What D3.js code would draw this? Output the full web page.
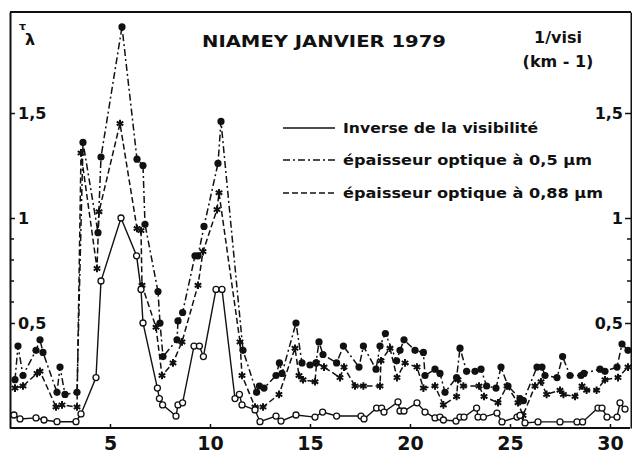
<!DOCTYPE html>
<html><head><meta charset="utf-8">
<script src="https://cdn.jsdelivr.net/npm/d3@7"></script>
<style>
body{margin:0;background:#fff;}
svg{display:block;}
text{font-family:"DejaVu Sans",sans-serif;font-weight:bold;fill:#111;}
</style></head>
<body><svg id="c" width="632" height="453"></svg>
<script>
// ---- data (day of January 1979, value) ----
const visDays = [0.2,0.5,1.3,1.7,2.35,3.3,3.55,4.3,4.55,5.55,6.33,6.55,6.65,7.37,7.47,7.63,8.3,8.4,8.63,9.2,9.47,9.67,10.3,10.6,11.25,11.47,11.6,12.25,12.5,13.3,13.55,14.3,15.25,15.63,16.33,17.55,17.7,18.33,18.58,18.7,19.4,19.5,19.7,20.35,20.75,21.25,21.5,21.67,22.3,22.5,22.7,23.33,23.4,23.67,24.35,24.6,25.35,25.5,25.75,26.4,27.5,28.35,28.63,29.4,29.6,29.85,30.35,30.5,30.75];
const visValues = [0.062,0.043,0.048,0.038,0.03,0.03,0.067,0.24,0.70,1.0,0.82,0.66,0.50,0.19,0.14,0.11,0.057,0.11,0.12,0.39,0.39,0.34,0.66,0.66,0.14,0.16,0.11,0.086,0.03,0.057,0.033,0.062,0.052,0.076,0.057,0.057,0.043,0.095,0.095,0.076,0.124,0.081,0.081,0.12,0.076,0.048,0.052,0.038,0.033,0.052,0.052,0.095,0.052,0.052,0.071,0.029,0.052,0.06,0.024,0.029,0.029,0.029,0.029,0.095,0.095,0.052,0.052,0.12,0.09];

const tau05Days = [0.25,0.4,0.65,1.3,1.5,1.65,2.35,2.5,2.75,3.35,3.65,4.4,4.55,5.6,6.35,6.65,6.75,7.4,7.5,7.65,8.35,8.4,8.63,9.25,9.4,9.7,10.4,10.55,11.65,12.33,12.47,12.7,13.3,13.47,13.6,14.3,14.6,15.0,15.3,15.45,15.65,16.33,16.67,17.45,17.67,18.3,18.5,18.77,19.33,19.5,19.7,20.25,20.67,20.75,21.25,21.5,21.75,22.33,22.5,22.83,23.25,23.55,23.83,24.3,24.55,24.9,25.5,25.67,26.35,26.6,26.75,27.35,27.63,28.0,28.55,28.7,29.5,29.75,30.35,30.6,30.9];
const tau05Values = [0.23,0.39,0.25,0.37,0.42,0.36,0.17,0.29,0.16,0.17,1.36,0.93,1.29,1.91,1.28,1.25,0.97,0.65,0.50,0.34,0.42,0.51,0.55,0.82,0.82,0.96,1.26,1.46,0.37,0.17,0.20,0.19,0.25,0.31,0.26,0.50,0.31,0.30,0.31,0.41,0.35,0.31,0.39,0.29,0.39,0.28,0.39,0.45,0.32,0.37,0.42,0.37,0.36,0.25,0.28,0.26,0.17,0.24,0.38,0.27,0.27,0.28,0.20,0.19,0.29,0.20,0.14,0.13,0.29,0.29,0.25,0.24,0.34,0.25,0.25,0.26,0.28,0.27,0.29,0.40,0.37];

const tau088Days = [0.25,0.65,1.35,1.5,2.3,2.6,3.35,3.55,4.35,4.45,5.5,6.35,6.55,6.6,7.3,7.6,8.15,8.6,9.4,9.65,10.35,10.45,11.5,11.6,12.25,12.65,13.45,14.25,14.45,14.65,15.25,15.33,15.7,16.5,16.7,17.25,17.67,18.5,18.55,19.0,19.35,19.75,20.35,20.67,21.25,21.67,22.33,22.4,22.67,23.45,23.7,24.4,24.85,25.4,25.65,26.25,26.55,26.83,27.5,27.67,28.25,28.6,28.83,29.33,29.75,30.4,30.9];
const tau088Values = [0.19,0.20,0.26,0.27,0.10,0.11,0.10,1.31,0.76,1.03,1.45,0.95,0.94,0.68,0.48,0.25,0.31,0.41,0.68,0.84,1.04,1.12,0.41,0.25,0.10,0.10,0.16,0.38,0.25,0.23,0.22,0.31,0.29,0.24,0.29,0.20,0.20,0.20,0.32,0.38,0.24,0.31,0.29,0.19,0.20,0.11,0.15,0.23,0.20,0.20,0.15,0.12,0.20,0.12,0.06,0.20,0.22,0.16,0.18,0.16,0.15,0.20,0.18,0.18,0.23,0.24,0.29];

const xTicks = [5,10,15,20,25,30];
const yMajorTicks = [0.5,1,1.5];
const yMinorTicks = [0.6,0.7,0.8,0.9];
const titleText = "NIAMEY  JANVIER 1979";
const legendLabels = ["Inverse de la visibilité","épaisseur optique à 0,5 µm","épaisseur optique à 0,88 µm"];

// ---- drawing ----
const svg = d3.select("#c");
const x = d3.scaleLinear().domain([0,31]).range([10,630]);
const y = d3.scaleLinear().domain([0,1.981]).range([428,12]);
const fmt = d => String(d).replace(".", ",");

// frame top line
svg.append("line").attr("x1",10).attr("x2",631).attr("y1",y(1.981)).attr("y2",y(1.981))
  .attr("stroke","#111").attr("stroke-width",2);

// left axis (ticks inside)
const gL = svg.append("g").attr("transform","translate(10,0)")
  .call(d3.axisRight(y).tickValues(yMajorTicks).tickFormat(fmt).tickSize(5).tickSizeOuter(0).tickPadding(3));
gL.append("g").selectAll("line").data(yMinorTicks).join("line")
  .attr("x1",0).attr("x2",4).attr("y1",d=>y(d)).attr("y2",d=>y(d)).attr("stroke","#111").attr("stroke-width",1.5);
// right axis
const gR = svg.append("g").attr("transform","translate(631,0)")
  .call(d3.axisLeft(y).tickValues(yMajorTicks).tickFormat(fmt).tickSize(6).tickSizeOuter(0).tickPadding(2));
gR.append("g").selectAll("line").data(yMinorTicks).join("line")
  .attr("x1",0).attr("x2",-4).attr("y1",d=>y(d)).attr("y2",d=>y(d)).attr("stroke","#111").attr("stroke-width",1.5);
// bottom axis
const gB = svg.append("g").attr("transform","translate(0,428)")
  .call(d3.axisBottom(x).tickValues(xTicks).tickSize(-4).tickSizeOuter(0).tickPadding(9));
[gL,gR,gB].forEach(g=>{
  g.select(".domain").attr("stroke","#111").attr("stroke-width",2);
  g.selectAll(".tick line").attr("stroke","#111").attr("stroke-width",1.5);
  g.selectAll("text").attr("font-family","DejaVu Sans").attr("font-weight","bold").attr("fill","#111");
});
gL.selectAll("text").attr("font-size",16);
gR.selectAll("text").attr("font-size",16);
gB.selectAll("text").attr("font-size",19);
gB.select(".domain").attr("d","M10,0H630");

// titles
svg.append("text").attr("x",202).attr("y",47).attr("font-size",15)
  .attr("textLength",244).attr("lengthAdjust","spacingAndGlyphs").text(titleText);
svg.append("text").attr("x",558).attr("y",43).attr("text-anchor","middle").attr("font-size",16).text("1/visi");
svg.append("text").attr("x",558).attr("y",67).attr("text-anchor","middle").attr("font-size",16).text("(km - 1)");
svg.append("text").attr("x",19).attr("y",30).attr("font-size",11).text("τ");
svg.append("text").attr("x",25).attr("y",45).attr("font-size",16).attr("font-weight","normal").text("λ");

// series
const mk = (ds,vs)=>ds.map((d,i)=>({d, v:vs[i]}));
const vis = mk(visDays,visValues), t05 = mk(tau05Days,tau05Values), t088 = mk(tau088Days,tau088Values);
const line = d3.line().x(p=>x(p.d)).y(p=>y(p.v));

svg.append("path").datum(t088).attr("d",line).attr("fill","none").attr("stroke","#111")
  .attr("stroke-width",1.5).attr("stroke-dasharray","6,3");
svg.append("path").datum(t05).attr("d",line).attr("fill","none").attr("stroke","#111")
  .attr("stroke-width",1.5).attr("stroke-dasharray","7,3,2,3");
svg.append("path").datum(vis).attr("d",line).attr("fill","none").attr("stroke","#111")
  .attr("stroke-width",1.4);

const star = d3.symbol().type(d3.symbolAsterisk).size(40);
svg.append("g").selectAll("path").data(t088).join("path")
  .attr("transform",p=>`translate(${x(p.d)},${y(p.v)})`).attr("d",star)
  .attr("stroke","#111").attr("stroke-width",2).attr("fill","none");
svg.append("g").selectAll("circle").data(t05).join("circle")
  .attr("cx",p=>x(p.d)).attr("cy",p=>y(p.v)).attr("r",3.6).attr("fill","#111");
svg.append("g").selectAll("circle").data(vis).join("circle")
  .attr("cx",p=>x(p.d)).attr("cy",p=>y(p.v)).attr("r",3).attr("fill","#fff")
  .attr("stroke","#111").attr("stroke-width",1.3);

// legend
const legRows = [128,160,193];
const dashes = [null,"7,3,2,3","6,3"];
const legLen = [195,249,260];
legendLabels.forEach((lab,i)=>{
  const l = svg.append("line").attr("x1",283).attr("x2",335).attr("y1",legRows[i]).attr("y2",legRows[i])
    .attr("stroke","#111").attr("stroke-width",1.5);
  if(dashes[i]) l.attr("stroke-dasharray",dashes[i]);
  svg.append("text").attr("x",343).attr("y",legRows[i]+5).attr("font-size",13.5)
    .attr("textLength",legLen[i]).attr("lengthAdjust","spacingAndGlyphs").text(lab);
});
</script></body></html>
